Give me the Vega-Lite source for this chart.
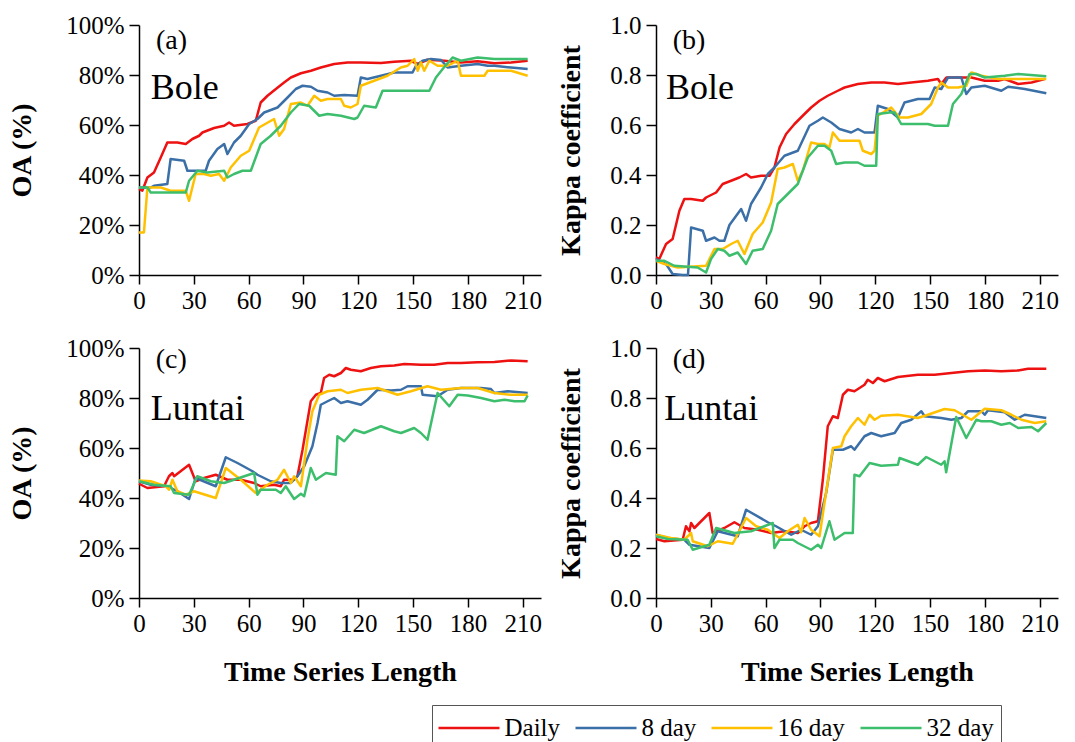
{
"$schema": "https://vega.github.io/schema/vega-lite/v6.json",
"background": "white",
"padding": {"left": 8, "top": 13, "right": 5, "bottom": 5},
"columns": 2,
"align": "each",
"spacing": {"row": 23, "column": 15},
"resolve": {"scale": {"color": "shared"}, "legend": {"color": "shared"}},
"config": {
  "view": {"stroke": null},
  "axis": {"grid": false, "domainColor": "black", "domainWidth": 1.5, "tickColor": "black", "tickWidth": 1.5, "labelColor": "black", "titleColor": "black", "labelFont": "Liberation Serif", "labelFontSize": 25, "titleFont": "Liberation Serif", "titleFontSize": 28, "titleFontWeight": "bold", "labelFlush": false, "labelOverlap": false},
  "text": {"font": "Liberation Serif", "color": "black"}
},
"datasets": {
"d": [
{"p":"a","s":"Daily","x":0,"y":0.344},{"p":"a","s":"Daily","x":1.8,"y":0.337},{"p":"a","s":"Daily","x":4.6,"y":0.39},{"p":"a","s":"Daily","x":8.2,"y":0.41},{"p":"a","s":"Daily","x":11.9,"y":0.47},{"p":"a","s":"Daily","x":15.5,"y":0.53},{"p":"a","s":"Daily","x":21.0,"y":0.53},{"p":"a","s":"Daily","x":25.6,"y":0.524},{"p":"a","s":"Daily","x":29.2,"y":0.544},{"p":"a","s":"Daily","x":32.9,"y":0.557},{"p":"a","s":"Daily","x":34.7,"y":0.57},{"p":"a","s":"Daily","x":41.1,"y":0.588},{"p":"a","s":"Daily","x":46.6,"y":0.597},{"p":"a","s":"Daily","x":49.3,"y":0.61},{"p":"a","s":"Daily","x":52.0,"y":0.597},{"p":"a","s":"Daily","x":59.3,"y":0.604},{"p":"a","s":"Daily","x":63.9,"y":0.617},{"p":"a","s":"Daily","x":66.6,"y":0.69},{"p":"a","s":"Daily","x":70.3,"y":0.717},{"p":"a","s":"Daily","x":74.9,"y":0.744},{"p":"a","s":"Daily","x":79.4,"y":0.77},{"p":"a","s":"Daily","x":83.1,"y":0.79},{"p":"a","s":"Daily","x":88.6,"y":0.807},{"p":"a","s":"Daily","x":94.1,"y":0.817},{"p":"a","s":"Daily","x":99.5,"y":0.83},{"p":"a","s":"Daily","x":106.8,"y":0.844},{"p":"a","s":"Daily","x":114.1,"y":0.85},{"p":"a","s":"Daily","x":121.4,"y":0.85},{"p":"a","s":"Daily","x":132.4,"y":0.848},{"p":"a","s":"Daily","x":139.7,"y":0.853},{"p":"a","s":"Daily","x":148.8,"y":0.857},{"p":"a","s":"Daily","x":152.5,"y":0.844},{"p":"a","s":"Daily","x":157.9,"y":0.861},{"p":"a","s":"Daily","x":167.1,"y":0.857},{"p":"a","s":"Daily","x":176.2,"y":0.85},{"p":"a","s":"Daily","x":185.3,"y":0.855},{"p":"a","s":"Daily","x":194.5,"y":0.847},{"p":"a","s":"Daily","x":203.6,"y":0.85},{"p":"a","s":"Daily","x":212.7,"y":0.857},
{"p":"a","s":"8 day","x":0,"y":0.35},{"p":"a","s":"8 day","x":6.4,"y":0.35},{"p":"a","s":"8 day","x":8.2,"y":0.357},{"p":"a","s":"8 day","x":15.5,"y":0.364},{"p":"a","s":"8 day","x":17.3,"y":0.464},{"p":"a","s":"8 day","x":24.7,"y":0.457},{"p":"a","s":"8 day","x":26.5,"y":0.417},{"p":"a","s":"8 day","x":36.5,"y":0.417},{"p":"a","s":"8 day","x":38.3,"y":0.457},{"p":"a","s":"8 day","x":42.9,"y":0.504},{"p":"a","s":"8 day","x":46.6,"y":0.524},{"p":"a","s":"8 day","x":48.4,"y":0.484},{"p":"a","s":"8 day","x":52.0,"y":0.53},{"p":"a","s":"8 day","x":55.7,"y":0.557},{"p":"a","s":"8 day","x":60.3,"y":0.604},{"p":"a","s":"8 day","x":64.8,"y":0.624},{"p":"a","s":"8 day","x":68.5,"y":0.65},{"p":"a","s":"8 day","x":75.8,"y":0.67},{"p":"a","s":"8 day","x":81.3,"y":0.71},{"p":"a","s":"8 day","x":85.8,"y":0.744},{"p":"a","s":"8 day","x":89.5,"y":0.757},{"p":"a","s":"8 day","x":94.1,"y":0.753},{"p":"a","s":"8 day","x":97.7,"y":0.737},{"p":"a","s":"8 day","x":103.2,"y":0.73},{"p":"a","s":"8 day","x":106.8,"y":0.717},{"p":"a","s":"8 day","x":112.3,"y":0.72},{"p":"a","s":"8 day","x":119.6,"y":0.717},{"p":"a","s":"8 day","x":121.4,"y":0.79},{"p":"a","s":"8 day","x":125.0,"y":0.784},{"p":"a","s":"8 day","x":132.4,"y":0.797},{"p":"a","s":"8 day","x":139.7,"y":0.81},{"p":"a","s":"8 day","x":149.7,"y":0.81},{"p":"a","s":"8 day","x":151.6,"y":0.837},{"p":"a","s":"8 day","x":155.2,"y":0.857},{"p":"a","s":"8 day","x":159.8,"y":0.864},{"p":"a","s":"8 day","x":165.3,"y":0.86},{"p":"a","s":"8 day","x":168.9,"y":0.83},{"p":"a","s":"8 day","x":176.2,"y":0.837},{"p":"a","s":"8 day","x":185.3,"y":0.844},{"p":"a","s":"8 day","x":190.8,"y":0.837},{"p":"a","s":"8 day","x":194.5,"y":0.837},{"p":"a","s":"8 day","x":203.6,"y":0.83},{"p":"a","s":"8 day","x":212.7,"y":0.824},
{"p":"a","s":"16 day","x":0,"y":0.17},{"p":"a","s":"16 day","x":2.7,"y":0.17},{"p":"a","s":"16 day","x":4.6,"y":0.35},{"p":"a","s":"16 day","x":11.9,"y":0.35},{"p":"a","s":"16 day","x":17.3,"y":0.337},{"p":"a","s":"16 day","x":25.6,"y":0.337},{"p":"a","s":"16 day","x":27.4,"y":0.297},{"p":"a","s":"16 day","x":31.0,"y":0.404},{"p":"a","s":"16 day","x":35.6,"y":0.404},{"p":"a","s":"16 day","x":39.3,"y":0.397},{"p":"a","s":"16 day","x":43.8,"y":0.404},{"p":"a","s":"16 day","x":46.6,"y":0.377},{"p":"a","s":"16 day","x":50.2,"y":0.43},{"p":"a","s":"16 day","x":55.7,"y":0.477},{"p":"a","s":"16 day","x":60.3,"y":0.497},{"p":"a","s":"16 day","x":65.7,"y":0.59},{"p":"a","s":"16 day","x":73.9,"y":0.624},{"p":"a","s":"16 day","x":76.7,"y":0.557},{"p":"a","s":"16 day","x":79.4,"y":0.584},{"p":"a","s":"16 day","x":83.1,"y":0.684},{"p":"a","s":"16 day","x":88.6,"y":0.69},{"p":"a","s":"16 day","x":92.2,"y":0.677},{"p":"a","s":"16 day","x":95.9,"y":0.717},{"p":"a","s":"16 day","x":99.5,"y":0.697},{"p":"a","s":"16 day","x":103.2,"y":0.704},{"p":"a","s":"16 day","x":110.5,"y":0.704},{"p":"a","s":"16 day","x":112.3,"y":0.677},{"p":"a","s":"16 day","x":115.9,"y":0.67},{"p":"a","s":"16 day","x":119.6,"y":0.684},{"p":"a","s":"16 day","x":121.4,"y":0.757},{"p":"a","s":"16 day","x":128.7,"y":0.777},{"p":"a","s":"16 day","x":136.0,"y":0.797},{"p":"a","s":"16 day","x":143.3,"y":0.83},{"p":"a","s":"16 day","x":147.0,"y":0.837},{"p":"a","s":"16 day","x":150.6,"y":0.864},{"p":"a","s":"16 day","x":152.5,"y":0.817},{"p":"a","s":"16 day","x":154.3,"y":0.85},{"p":"a","s":"16 day","x":156.1,"y":0.817},{"p":"a","s":"16 day","x":158.9,"y":0.857},{"p":"a","s":"16 day","x":163.4,"y":0.837},{"p":"a","s":"16 day","x":168.9,"y":0.837},{"p":"a","s":"16 day","x":174.4,"y":0.857},{"p":"a","s":"16 day","x":176.2,"y":0.797},{"p":"a","s":"16 day","x":189.0,"y":0.797},{"p":"a","s":"16 day","x":190.8,"y":0.817},{"p":"a","s":"16 day","x":203.6,"y":0.817},{"p":"a","s":"16 day","x":212.7,"y":0.797},
{"p":"a","s":"32 day","x":0,"y":0.35},{"p":"a","s":"32 day","x":4.6,"y":0.35},{"p":"a","s":"32 day","x":6.4,"y":0.33},{"p":"a","s":"32 day","x":25.6,"y":0.33},{"p":"a","s":"32 day","x":27.4,"y":0.377},{"p":"a","s":"32 day","x":32.0,"y":0.417},{"p":"a","s":"32 day","x":37.4,"y":0.41},{"p":"a","s":"32 day","x":46.6,"y":0.417},{"p":"a","s":"32 day","x":48.4,"y":0.39},{"p":"a","s":"32 day","x":52.0,"y":0.404},{"p":"a","s":"32 day","x":56.6,"y":0.417},{"p":"a","s":"32 day","x":61.2,"y":0.417},{"p":"a","s":"32 day","x":66.6,"y":0.524},{"p":"a","s":"32 day","x":72.1,"y":0.557},{"p":"a","s":"32 day","x":77.6,"y":0.597},{"p":"a","s":"32 day","x":83.1,"y":0.65},{"p":"a","s":"32 day","x":87.6,"y":0.684},{"p":"a","s":"32 day","x":93.1,"y":0.677},{"p":"a","s":"32 day","x":98.6,"y":0.637},{"p":"a","s":"32 day","x":103.2,"y":0.644},{"p":"a","s":"32 day","x":110.5,"y":0.637},{"p":"a","s":"32 day","x":117.8,"y":0.624},{"p":"a","s":"32 day","x":119.6,"y":0.63},{"p":"a","s":"32 day","x":123.2,"y":0.677},{"p":"a","s":"32 day","x":129.6,"y":0.67},{"p":"a","s":"32 day","x":133.3,"y":0.737},{"p":"a","s":"32 day","x":139.7,"y":0.737},{"p":"a","s":"32 day","x":158.9,"y":0.737},{"p":"a","s":"32 day","x":162.5,"y":0.79},{"p":"a","s":"32 day","x":166.2,"y":0.824},{"p":"a","s":"32 day","x":171.6,"y":0.87},{"p":"a","s":"32 day","x":176.2,"y":0.857},{"p":"a","s":"32 day","x":185.3,"y":0.87},{"p":"a","s":"32 day","x":194.5,"y":0.864},{"p":"a","s":"32 day","x":212.7,"y":0.864},
{"p":"b","s":"Daily","x":0,"y":0.07},{"p":"b","s":"Daily","x":1.8,"y":0.064},{"p":"b","s":"Daily","x":5.5,"y":0.124},{"p":"b","s":"Daily","x":9.1,"y":0.144},{"p":"b","s":"Daily","x":12.8,"y":0.257},{"p":"b","s":"Daily","x":15.5,"y":0.304},{"p":"b","s":"Daily","x":19.2,"y":0.304},{"p":"b","s":"Daily","x":25.6,"y":0.297},{"p":"b","s":"Daily","x":27.4,"y":0.31},{"p":"b","s":"Daily","x":32.9,"y":0.33},{"p":"b","s":"Daily","x":36.5,"y":0.364},{"p":"b","s":"Daily","x":41.1,"y":0.377},{"p":"b","s":"Daily","x":45.6,"y":0.39},{"p":"b","s":"Daily","x":49.3,"y":0.404},{"p":"b","s":"Daily","x":52.0,"y":0.39},{"p":"b","s":"Daily","x":57.5,"y":0.397},{"p":"b","s":"Daily","x":62.1,"y":0.397},{"p":"b","s":"Daily","x":64.8,"y":0.43},{"p":"b","s":"Daily","x":67.6,"y":0.51},{"p":"b","s":"Daily","x":71.2,"y":0.564},{"p":"b","s":"Daily","x":75.8,"y":0.604},{"p":"b","s":"Daily","x":80.3,"y":0.637},{"p":"b","s":"Daily","x":84.9,"y":0.67},{"p":"b","s":"Daily","x":89.5,"y":0.697},{"p":"b","s":"Daily","x":94.0,"y":0.717},{"p":"b","s":"Daily","x":99.5,"y":0.737},{"p":"b","s":"Daily","x":103.2,"y":0.75},{"p":"b","s":"Daily","x":110.5,"y":0.764},{"p":"b","s":"Daily","x":117.8,"y":0.77},{"p":"b","s":"Daily","x":125.1,"y":0.77},{"p":"b","s":"Daily","x":132.4,"y":0.764},{"p":"b","s":"Daily","x":139.7,"y":0.77},{"p":"b","s":"Daily","x":148.8,"y":0.777},{"p":"b","s":"Daily","x":154.3,"y":0.784},{"p":"b","s":"Daily","x":156.1,"y":0.764},{"p":"b","s":"Daily","x":158.9,"y":0.79},{"p":"b","s":"Daily","x":165.3,"y":0.79},{"p":"b","s":"Daily","x":172.6,"y":0.79},{"p":"b","s":"Daily","x":179.9,"y":0.777},{"p":"b","s":"Daily","x":187.2,"y":0.777},{"p":"b","s":"Daily","x":190.8,"y":0.784},{"p":"b","s":"Daily","x":198.2,"y":0.764},{"p":"b","s":"Daily","x":205.5,"y":0.77},{"p":"b","s":"Daily","x":212.7,"y":0.784},
{"p":"b","s":"8 day","x":0,"y":0.064},{"p":"b","s":"8 day","x":5.5,"y":0.044},{"p":"b","s":"8 day","x":9.1,"y":0.004},{"p":"b","s":"8 day","x":14.6,"y":0},{"p":"b","s":"8 day","x":17.5,"y":0.0},{"p":"b","s":"8 day","x":19.2,"y":0.19},{"p":"b","s":"8 day","x":25.6,"y":0.177},{"p":"b","s":"8 day","x":27.4,"y":0.137},{"p":"b","s":"8 day","x":32.0,"y":0.15},{"p":"b","s":"8 day","x":34.7,"y":0.137},{"p":"b","s":"8 day","x":37.4,"y":0.137},{"p":"b","s":"8 day","x":40.2,"y":0.2},{"p":"b","s":"8 day","x":46.6,"y":0.264},{"p":"b","s":"8 day","x":49.3,"y":0.217},{"p":"b","s":"8 day","x":52.0,"y":0.284},{"p":"b","s":"8 day","x":57.5,"y":0.35},{"p":"b","s":"8 day","x":61.2,"y":0.404},{"p":"b","s":"8 day","x":64.8,"y":0.43},{"p":"b","s":"8 day","x":70.3,"y":0.477},{"p":"b","s":"8 day","x":77.6,"y":0.497},{"p":"b","s":"8 day","x":84.0,"y":0.597},{"p":"b","s":"8 day","x":88.6,"y":0.617},{"p":"b","s":"8 day","x":91.3,"y":0.63},{"p":"b","s":"8 day","x":95.9,"y":0.61},{"p":"b","s":"8 day","x":100.4,"y":0.584},{"p":"b","s":"8 day","x":106.8,"y":0.57},{"p":"b","s":"8 day","x":110.5,"y":0.584},{"p":"b","s":"8 day","x":114.1,"y":0.57},{"p":"b","s":"8 day","x":119.6,"y":0.57},{"p":"b","s":"8 day","x":121.4,"y":0.677},{"p":"b","s":"8 day","x":126.9,"y":0.664},{"p":"b","s":"8 day","x":132.4,"y":0.63},{"p":"b","s":"8 day","x":136.0,"y":0.69},{"p":"b","s":"8 day","x":143.3,"y":0.704},{"p":"b","s":"8 day","x":149.7,"y":0.704},{"p":"b","s":"8 day","x":152.5,"y":0.75},{"p":"b","s":"8 day","x":156.1,"y":0.744},{"p":"b","s":"8 day","x":159.8,"y":0.79},{"p":"b","s":"8 day","x":167.1,"y":0.79},{"p":"b","s":"8 day","x":169.8,"y":0.724},{"p":"b","s":"8 day","x":172.6,"y":0.75},{"p":"b","s":"8 day","x":179.9,"y":0.757},{"p":"b","s":"8 day","x":189.0,"y":0.737},{"p":"b","s":"8 day","x":192.7,"y":0.753},{"p":"b","s":"8 day","x":201.8,"y":0.744},{"p":"b","s":"8 day","x":213.6,"y":0.727},
{"p":"b","s":"16 day","x":0,"y":0.057},{"p":"b","s":"16 day","x":4.6,"y":0.044},{"p":"b","s":"16 day","x":11.9,"y":0.03},{"p":"b","s":"16 day","x":27.4,"y":0.037},{"p":"b","s":"16 day","x":32.0,"y":0.104},{"p":"b","s":"16 day","x":36.5,"y":0.104},{"p":"b","s":"16 day","x":41.1,"y":0.124},{"p":"b","s":"16 day","x":44.7,"y":0.137},{"p":"b","s":"16 day","x":48.4,"y":0.084},{"p":"b","s":"16 day","x":52.9,"y":0.164},{"p":"b","s":"16 day","x":58.4,"y":0.21},{"p":"b","s":"16 day","x":63.0,"y":0.29},{"p":"b","s":"16 day","x":66.6,"y":0.424},{"p":"b","s":"16 day","x":70.3,"y":0.43},{"p":"b","s":"16 day","x":74.9,"y":0.444},{"p":"b","s":"16 day","x":77.6,"y":0.377},{"p":"b","s":"16 day","x":80.3,"y":0.417},{"p":"b","s":"16 day","x":84.9,"y":0.53},{"p":"b","s":"16 day","x":88.6,"y":0.524},{"p":"b","s":"16 day","x":92.2,"y":0.524},{"p":"b","s":"16 day","x":94.9,"y":0.51},{"p":"b","s":"16 day","x":96.8,"y":0.57},{"p":"b","s":"16 day","x":100.4,"y":0.537},{"p":"b","s":"16 day","x":105.0,"y":0.537},{"p":"b","s":"16 day","x":111.4,"y":0.537},{"p":"b","s":"16 day","x":113.2,"y":0.497},{"p":"b","s":"16 day","x":117.8,"y":0.484},{"p":"b","s":"16 day","x":119.6,"y":0.497},{"p":"b","s":"16 day","x":121.4,"y":0.637},{"p":"b","s":"16 day","x":128.7,"y":0.67},{"p":"b","s":"16 day","x":133.3,"y":0.63},{"p":"b","s":"16 day","x":137.9,"y":0.63},{"p":"b","s":"16 day","x":145.2,"y":0.644},{"p":"b","s":"16 day","x":150.6,"y":0.684},{"p":"b","s":"16 day","x":154.3,"y":0.75},{"p":"b","s":"16 day","x":156.1,"y":0.77},{"p":"b","s":"16 day","x":159.8,"y":0.75},{"p":"b","s":"16 day","x":165.3,"y":0.75},{"p":"b","s":"16 day","x":169.8,"y":0.757},{"p":"b","s":"16 day","x":172.6,"y":0.81},{"p":"b","s":"16 day","x":178.1,"y":0.797},{"p":"b","s":"16 day","x":187.2,"y":0.784},{"p":"b","s":"16 day","x":198.2,"y":0.784},{"p":"b","s":"16 day","x":213.6,"y":0.784},
{"p":"b","s":"32 day","x":0,"y":0.057},{"p":"b","s":"32 day","x":4.6,"y":0.057},{"p":"b","s":"32 day","x":10.0,"y":0.037},{"p":"b","s":"32 day","x":22.8,"y":0.03},{"p":"b","s":"32 day","x":27.4,"y":0.01},{"p":"b","s":"32 day","x":30.1,"y":0.064},{"p":"b","s":"32 day","x":33.8,"y":0.104},{"p":"b","s":"32 day","x":37.4,"y":0.097},{"p":"b","s":"32 day","x":40.2,"y":0.077},{"p":"b","s":"32 day","x":44.7,"y":0.09},{"p":"b","s":"32 day","x":49.3,"y":0.044},{"p":"b","s":"32 day","x":52.9,"y":0.097},{"p":"b","s":"32 day","x":58.4,"y":0.104},{"p":"b","s":"32 day","x":63.0,"y":0.177},{"p":"b","s":"32 day","x":66.6,"y":0.284},{"p":"b","s":"32 day","x":72.1,"y":0.324},{"p":"b","s":"32 day","x":77.6,"y":0.364},{"p":"b","s":"32 day","x":83.1,"y":0.47},{"p":"b","s":"32 day","x":88.6,"y":0.517},{"p":"b","s":"32 day","x":92.2,"y":0.517},{"p":"b","s":"32 day","x":95.9,"y":0.497},{"p":"b","s":"32 day","x":98.6,"y":0.444},{"p":"b","s":"32 day","x":103.2,"y":0.45},{"p":"b","s":"32 day","x":110.5,"y":0.45},{"p":"b","s":"32 day","x":114.1,"y":0.437},{"p":"b","s":"32 day","x":120.5,"y":0.437},{"p":"b","s":"32 day","x":121.4,"y":0.644},{"p":"b","s":"32 day","x":127.8,"y":0.65},{"p":"b","s":"32 day","x":130.6,"y":0.65},{"p":"b","s":"32 day","x":134.2,"y":0.604},{"p":"b","s":"32 day","x":141.5,"y":0.604},{"p":"b","s":"32 day","x":148.8,"y":0.604},{"p":"b","s":"32 day","x":152.5,"y":0.597},{"p":"b","s":"32 day","x":159.8,"y":0.597},{"p":"b","s":"32 day","x":162.5,"y":0.684},{"p":"b","s":"32 day","x":167.1,"y":0.724},{"p":"b","s":"32 day","x":171.6,"y":0.804},{"p":"b","s":"32 day","x":175.3,"y":0.804},{"p":"b","s":"32 day","x":179.9,"y":0.79},{"p":"b","s":"32 day","x":190.8,"y":0.797},{"p":"b","s":"32 day","x":198.2,"y":0.804},{"p":"b","s":"32 day","x":213.6,"y":0.795},
{"p":"c","s":"Daily","x":0,"y":0.457},{"p":"c","s":"Daily","x":4.6,"y":0.44},{"p":"c","s":"Daily","x":13.7,"y":0.447},{"p":"c","s":"Daily","x":16.4,"y":0.487},{"p":"c","s":"Daily","x":18.3,"y":0.5},{"p":"c","s":"Daily","x":19.2,"y":0.487},{"p":"c","s":"Daily","x":27.4,"y":0.533},{"p":"c","s":"Daily","x":31.0,"y":0.467},{"p":"c","s":"Daily","x":35.6,"y":0.48},{"p":"c","s":"Daily","x":42.0,"y":0.493},{"p":"c","s":"Daily","x":48.4,"y":0.473},{"p":"c","s":"Daily","x":55.7,"y":0.473},{"p":"c","s":"Daily","x":63.0,"y":0.46},{"p":"c","s":"Daily","x":66.6,"y":0.447},{"p":"c","s":"Daily","x":73.9,"y":0.453},{"p":"c","s":"Daily","x":77.6,"y":0.447},{"p":"c","s":"Daily","x":79.4,"y":0.473},{"p":"c","s":"Daily","x":84.9,"y":0.473},{"p":"c","s":"Daily","x":86.7,"y":0.487},{"p":"c","s":"Daily","x":89.5,"y":0.593},{"p":"c","s":"Daily","x":94.0,"y":0.787},{"p":"c","s":"Daily","x":96.8,"y":0.813},{"p":"c","s":"Daily","x":99.5,"y":0.82},{"p":"c","s":"Daily","x":101.3,"y":0.88},{"p":"c","s":"Daily","x":104.1,"y":0.893},{"p":"c","s":"Daily","x":106.8,"y":0.887},{"p":"c","s":"Daily","x":110.5,"y":0.9},{"p":"c","s":"Daily","x":113.2,"y":0.92},{"p":"c","s":"Daily","x":115.9,"y":0.913},{"p":"c","s":"Daily","x":121.4,"y":0.907},{"p":"c","s":"Daily","x":126.9,"y":0.92},{"p":"c","s":"Daily","x":132.4,"y":0.927},{"p":"c","s":"Daily","x":139.7,"y":0.93},{"p":"c","s":"Daily","x":145.2,"y":0.936},{"p":"c","s":"Daily","x":154.3,"y":0.933},{"p":"c","s":"Daily","x":161.6,"y":0.933},{"p":"c","s":"Daily","x":168.9,"y":0.94},{"p":"c","s":"Daily","x":176.2,"y":0.94},{"p":"c","s":"Daily","x":185.3,"y":0.943},{"p":"c","s":"Daily","x":194.5,"y":0.944},{"p":"c","s":"Daily","x":203.6,"y":0.95},{"p":"c","s":"Daily","x":212.7,"y":0.947},
{"p":"c","s":"8 day","x":0,"y":0.467},{"p":"c","s":"8 day","x":6.4,"y":0.453},{"p":"c","s":"8 day","x":15.5,"y":0.447},{"p":"c","s":"8 day","x":21.0,"y":0.427},{"p":"c","s":"8 day","x":27.4,"y":0.396},{"p":"c","s":"8 day","x":31.0,"y":0.48},{"p":"c","s":"8 day","x":42.0,"y":0.447},{"p":"c","s":"8 day","x":47.5,"y":0.563},{"p":"c","s":"8 day","x":53.9,"y":0.54},{"p":"c","s":"8 day","x":62.1,"y":0.507},{"p":"c","s":"8 day","x":64.8,"y":0.493},{"p":"c","s":"8 day","x":72.1,"y":0.467},{"p":"c","s":"8 day","x":77.6,"y":0.46},{"p":"c","s":"8 day","x":83.1,"y":0.46},{"p":"c","s":"8 day","x":86.7,"y":0.487},{"p":"c","s":"8 day","x":90.4,"y":0.527},{"p":"c","s":"8 day","x":94.9,"y":0.607},{"p":"c","s":"8 day","x":97.7,"y":0.7},{"p":"c","s":"8 day","x":99.5,"y":0.773},{"p":"c","s":"8 day","x":103.2,"y":0.787},{"p":"c","s":"8 day","x":106.8,"y":0.8},{"p":"c","s":"8 day","x":110.5,"y":0.78},{"p":"c","s":"8 day","x":114.1,"y":0.787},{"p":"c","s":"8 day","x":117.8,"y":0.78},{"p":"c","s":"8 day","x":121.4,"y":0.773},{"p":"c","s":"8 day","x":125.1,"y":0.793},{"p":"c","s":"8 day","x":130.6,"y":0.833},{"p":"c","s":"8 day","x":137.9,"y":0.83},{"p":"c","s":"8 day","x":143.4,"y":0.833},{"p":"c","s":"8 day","x":147.0,"y":0.847},{"p":"c","s":"8 day","x":154.3,"y":0.847},{"p":"c","s":"8 day","x":155.2,"y":0.813},{"p":"c","s":"8 day","x":163.4,"y":0.807},{"p":"c","s":"8 day","x":168.9,"y":0.833},{"p":"c","s":"8 day","x":176.2,"y":0.84},{"p":"c","s":"8 day","x":187.2,"y":0.84},{"p":"c","s":"8 day","x":192.6,"y":0.836},{"p":"c","s":"8 day","x":194.5,"y":0.82},{"p":"c","s":"8 day","x":201.8,"y":0.827},{"p":"c","s":"8 day","x":212.7,"y":0.82},
{"p":"c","s":"16 day","x":0,"y":0.47},{"p":"c","s":"16 day","x":6.4,"y":0.467},{"p":"c","s":"16 day","x":14.6,"y":0.447},{"p":"c","s":"16 day","x":16.4,"y":0.433},{"p":"c","s":"16 day","x":18.3,"y":0.473},{"p":"c","s":"16 day","x":21.0,"y":0.427},{"p":"c","s":"16 day","x":25.6,"y":0.413},{"p":"c","s":"16 day","x":30.1,"y":0.427},{"p":"c","s":"16 day","x":42.0,"y":0.4},{"p":"c","s":"16 day","x":47.5,"y":0.52},{"p":"c","s":"16 day","x":55.7,"y":0.473},{"p":"c","s":"16 day","x":63.9,"y":0.42},{"p":"c","s":"16 day","x":70.3,"y":0.453},{"p":"c","s":"16 day","x":75.8,"y":0.473},{"p":"c","s":"16 day","x":79.4,"y":0.513},{"p":"c","s":"16 day","x":83.1,"y":0.46},{"p":"c","s":"16 day","x":84.9,"y":0.487},{"p":"c","s":"16 day","x":88.6,"y":0.447},{"p":"c","s":"16 day","x":92.2,"y":0.633},{"p":"c","s":"16 day","x":94.9,"y":0.747},{"p":"c","s":"16 day","x":98.6,"y":0.813},{"p":"c","s":"16 day","x":103.2,"y":0.827},{"p":"c","s":"16 day","x":110.5,"y":0.833},{"p":"c","s":"16 day","x":114.1,"y":0.82},{"p":"c","s":"16 day","x":121.4,"y":0.833},{"p":"c","s":"16 day","x":130.6,"y":0.84},{"p":"c","s":"16 day","x":141.5,"y":0.813},{"p":"c","s":"16 day","x":148.8,"y":0.827},{"p":"c","s":"16 day","x":157.9,"y":0.847},{"p":"c","s":"16 day","x":165.3,"y":0.833},{"p":"c","s":"16 day","x":176.2,"y":0.84},{"p":"c","s":"16 day","x":185.3,"y":0.84},{"p":"c","s":"16 day","x":194.5,"y":0.82},{"p":"c","s":"16 day","x":203.6,"y":0.813},{"p":"c","s":"16 day","x":212.7,"y":0.813},
{"p":"c","s":"32 day","x":0,"y":0.467},{"p":"c","s":"32 day","x":8.2,"y":0.453},{"p":"c","s":"32 day","x":17.3,"y":0.447},{"p":"c","s":"32 day","x":19.2,"y":0.42},{"p":"c","s":"32 day","x":27.4,"y":0.413},{"p":"c","s":"32 day","x":31.9,"y":0.487},{"p":"c","s":"32 day","x":39.3,"y":0.467},{"p":"c","s":"32 day","x":46.6,"y":0.46},{"p":"c","s":"32 day","x":63.0,"y":0.5},{"p":"c","s":"32 day","x":64.8,"y":0.413},{"p":"c","s":"32 day","x":66.6,"y":0.433},{"p":"c","s":"32 day","x":74.9,"y":0.433},{"p":"c","s":"32 day","x":77.6,"y":0.42},{"p":"c","s":"32 day","x":80.3,"y":0.447},{"p":"c","s":"32 day","x":84.9,"y":0.396},{"p":"c","s":"32 day","x":88.6,"y":0.417},{"p":"c","s":"32 day","x":90.4,"y":0.407},{"p":"c","s":"32 day","x":94.0,"y":0.52},{"p":"c","s":"32 day","x":96.8,"y":0.473},{"p":"c","s":"32 day","x":102.3,"y":0.5},{"p":"c","s":"32 day","x":107.7,"y":0.493},{"p":"c","s":"32 day","x":108.6,"y":0.647},{"p":"c","s":"32 day","x":112.3,"y":0.627},{"p":"c","s":"32 day","x":117.8,"y":0.673},{"p":"c","s":"32 day","x":123.2,"y":0.66},{"p":"c","s":"32 day","x":132.4,"y":0.687},{"p":"c","s":"32 day","x":139.7,"y":0.667},{"p":"c","s":"32 day","x":143.4,"y":0.66},{"p":"c","s":"32 day","x":150.6,"y":0.68},{"p":"c","s":"32 day","x":154.3,"y":0.66},{"p":"c","s":"32 day","x":157.9,"y":0.633},{"p":"c","s":"32 day","x":163.4,"y":0.82},{"p":"c","s":"32 day","x":169.8,"y":0.767},{"p":"c","s":"32 day","x":174.4,"y":0.813},{"p":"c","s":"32 day","x":179.9,"y":0.81},{"p":"c","s":"32 day","x":187.2,"y":0.8},{"p":"c","s":"32 day","x":194.5,"y":0.787},{"p":"c","s":"32 day","x":200.0,"y":0.793},{"p":"c","s":"32 day","x":205.5,"y":0.787},{"p":"c","s":"32 day","x":211.0,"y":0.787},{"p":"c","s":"32 day","x":212.7,"y":0.81},
{"p":"d","s":"Daily","x":0,"y":0.236},{"p":"d","s":"Daily","x":4.6,"y":0.227},{"p":"d","s":"Daily","x":14.6,"y":0.233},{"p":"d","s":"Daily","x":16.4,"y":0.287},{"p":"d","s":"Daily","x":18.3,"y":0.267},{"p":"d","s":"Daily","x":19.2,"y":0.3},{"p":"d","s":"Daily","x":21.0,"y":0.28},{"p":"d","s":"Daily","x":29.2,"y":0.34},{"p":"d","s":"Daily","x":31.0,"y":0.26},{"p":"d","s":"Daily","x":37.4,"y":0.28},{"p":"d","s":"Daily","x":42.9,"y":0.303},{"p":"d","s":"Daily","x":48.4,"y":0.28},{"p":"d","s":"Daily","x":55.7,"y":0.273},{"p":"d","s":"Daily","x":63.0,"y":0.26},{"p":"d","s":"Daily","x":70.3,"y":0.267},{"p":"d","s":"Daily","x":77.6,"y":0.26},{"p":"d","s":"Daily","x":81.3,"y":0.287},{"p":"d","s":"Daily","x":84.9,"y":0.3},{"p":"d","s":"Daily","x":88.6,"y":0.307},{"p":"d","s":"Daily","x":91.3,"y":0.473},{"p":"d","s":"Daily","x":94.0,"y":0.687},{"p":"d","s":"Daily","x":96.8,"y":0.727},{"p":"d","s":"Daily","x":99.5,"y":0.72},{"p":"d","s":"Daily","x":102.3,"y":0.813},{"p":"d","s":"Daily","x":105.0,"y":0.833},{"p":"d","s":"Daily","x":108.6,"y":0.827},{"p":"d","s":"Daily","x":111.4,"y":0.84},{"p":"d","s":"Daily","x":114.1,"y":0.853},{"p":"d","s":"Daily","x":115.9,"y":0.873},{"p":"d","s":"Daily","x":118.7,"y":0.86},{"p":"d","s":"Daily","x":121.4,"y":0.88},{"p":"d","s":"Daily","x":125.1,"y":0.867},{"p":"d","s":"Daily","x":132.4,"y":0.884},{"p":"d","s":"Daily","x":143.3,"y":0.893},{"p":"d","s":"Daily","x":152.5,"y":0.893},{"p":"d","s":"Daily","x":161.6,"y":0.9},{"p":"d","s":"Daily","x":170.8,"y":0.907},{"p":"d","s":"Daily","x":179.9,"y":0.91},{"p":"d","s":"Daily","x":189.0,"y":0.907},{"p":"d","s":"Daily","x":198.2,"y":0.91},{"p":"d","s":"Daily","x":203.6,"y":0.917},{"p":"d","s":"Daily","x":213.6,"y":0.917},
{"p":"d","s":"8 day","x":0,"y":0.253},{"p":"d","s":"8 day","x":6.4,"y":0.24},{"p":"d","s":"8 day","x":15.5,"y":0.233},{"p":"d","s":"8 day","x":18.3,"y":0.213},{"p":"d","s":"8 day","x":29.2,"y":0.2},{"p":"d","s":"8 day","x":33.8,"y":0.267},{"p":"d","s":"8 day","x":44.7,"y":0.247},{"p":"d","s":"8 day","x":49.3,"y":0.353},{"p":"d","s":"8 day","x":61.2,"y":0.303},{"p":"d","s":"8 day","x":65.7,"y":0.287},{"p":"d","s":"8 day","x":74.0,"y":0.253},{"p":"d","s":"8 day","x":79.4,"y":0.273},{"p":"d","s":"8 day","x":84.9,"y":0.253},{"p":"d","s":"8 day","x":88.6,"y":0.287},{"p":"d","s":"8 day","x":93.1,"y":0.42},{"p":"d","s":"8 day","x":96.8,"y":0.593},{"p":"d","s":"8 day","x":102.3,"y":0.593},{"p":"d","s":"8 day","x":106.8,"y":0.607},{"p":"d","s":"8 day","x":108.6,"y":0.593},{"p":"d","s":"8 day","x":114.1,"y":0.647},{"p":"d","s":"8 day","x":117.8,"y":0.66},{"p":"d","s":"8 day","x":123.2,"y":0.647},{"p":"d","s":"8 day","x":130.6,"y":0.66},{"p":"d","s":"8 day","x":134.2,"y":0.7},{"p":"d","s":"8 day","x":139.7,"y":0.713},{"p":"d","s":"8 day","x":145.2,"y":0.747},{"p":"d","s":"8 day","x":147.0,"y":0.727},{"p":"d","s":"8 day","x":156.1,"y":0.72},{"p":"d","s":"8 day","x":161.6,"y":0.713},{"p":"d","s":"8 day","x":167.1,"y":0.72},{"p":"d","s":"8 day","x":170.8,"y":0.747},{"p":"d","s":"8 day","x":178.1,"y":0.747},{"p":"d","s":"8 day","x":179.9,"y":0.733},{"p":"d","s":"8 day","x":181.7,"y":0.751},{"p":"d","s":"8 day","x":190.8,"y":0.743},{"p":"d","s":"8 day","x":196.3,"y":0.713},{"p":"d","s":"8 day","x":201.8,"y":0.733},{"p":"d","s":"8 day","x":213.6,"y":0.72},
{"p":"d","s":"16 day","x":0,"y":0.253},{"p":"d","s":"16 day","x":8.2,"y":0.24},{"p":"d","s":"16 day","x":15.5,"y":0.233},{"p":"d","s":"16 day","x":19.2,"y":0.26},{"p":"d","s":"16 day","x":20.1,"y":0.227},{"p":"d","s":"16 day","x":28.3,"y":0.207},{"p":"d","s":"16 day","x":33.8,"y":0.227},{"p":"d","s":"16 day","x":42.0,"y":0.217},{"p":"d","s":"16 day","x":49.3,"y":0.32},{"p":"d","s":"16 day","x":54.8,"y":0.287},{"p":"d","s":"16 day","x":61.2,"y":0.273},{"p":"d","s":"16 day","x":67.6,"y":0.24},{"p":"d","s":"16 day","x":72.1,"y":0.267},{"p":"d","s":"16 day","x":77.6,"y":0.293},{"p":"d","s":"16 day","x":79.4,"y":0.263},{"p":"d","s":"16 day","x":81.3,"y":0.32},{"p":"d","s":"16 day","x":84.9,"y":0.273},{"p":"d","s":"16 day","x":89.5,"y":0.247},{"p":"d","s":"16 day","x":92.2,"y":0.38},{"p":"d","s":"16 day","x":96.8,"y":0.6},{"p":"d","s":"16 day","x":101.4,"y":0.607},{"p":"d","s":"16 day","x":103.2,"y":0.647},{"p":"d","s":"16 day","x":106.8,"y":0.687},{"p":"d","s":"16 day","x":110.5,"y":0.72},{"p":"d","s":"16 day","x":114.1,"y":0.693},{"p":"d","s":"16 day","x":116.9,"y":0.733},{"p":"d","s":"16 day","x":119.6,"y":0.713},{"p":"d","s":"16 day","x":123.2,"y":0.729},{"p":"d","s":"16 day","x":132.4,"y":0.733},{"p":"d","s":"16 day","x":143.3,"y":0.72},{"p":"d","s":"16 day","x":148.8,"y":0.733},{"p":"d","s":"16 day","x":157.9,"y":0.756},{"p":"d","s":"16 day","x":163.4,"y":0.751},{"p":"d","s":"16 day","x":172.6,"y":0.713},{"p":"d","s":"16 day","x":179.9,"y":0.757},{"p":"d","s":"16 day","x":189.0,"y":0.751},{"p":"d","s":"16 day","x":194.5,"y":0.733},{"p":"d","s":"16 day","x":200.0,"y":0.713},{"p":"d","s":"16 day","x":207.3,"y":0.7},{"p":"d","s":"16 day","x":213.6,"y":0.707},
{"p":"d","s":"32 day","x":0,"y":0.247},{"p":"d","s":"32 day","x":6.4,"y":0.236},{"p":"d","s":"32 day","x":17.3,"y":0.233},{"p":"d","s":"32 day","x":20.1,"y":0.193},{"p":"d","s":"32 day","x":29.2,"y":0.213},{"p":"d","s":"32 day","x":32.9,"y":0.28},{"p":"d","s":"32 day","x":42.9,"y":0.26},{"p":"d","s":"32 day","x":52.0,"y":0.267},{"p":"d","s":"32 day","x":63.9,"y":0.3},{"p":"d","s":"32 day","x":64.8,"y":0.2},{"p":"d","s":"32 day","x":67.6,"y":0.233},{"p":"d","s":"32 day","x":74.9,"y":0.233},{"p":"d","s":"32 day","x":77.6,"y":0.22},{"p":"d","s":"32 day","x":84.9,"y":0.193},{"p":"d","s":"32 day","x":88.6,"y":0.213},{"p":"d","s":"32 day","x":90.4,"y":0.2},{"p":"d","s":"32 day","x":94.9,"y":0.307},{"p":"d","s":"32 day","x":97.7,"y":0.233},{"p":"d","s":"32 day","x":103.2,"y":0.26},{"p":"d","s":"32 day","x":107.7,"y":0.26},{"p":"d","s":"32 day","x":108.6,"y":0.493},{"p":"d","s":"32 day","x":111.4,"y":0.487},{"p":"d","s":"32 day","x":116.9,"y":0.54},{"p":"d","s":"32 day","x":123.2,"y":0.529},{"p":"d","s":"32 day","x":132.4,"y":0.533},{"p":"d","s":"32 day","x":133.3,"y":0.56},{"p":"d","s":"32 day","x":143.3,"y":0.533},{"p":"d","s":"32 day","x":147.9,"y":0.564},{"p":"d","s":"32 day","x":156.1,"y":0.533},{"p":"d","s":"32 day","x":157.9,"y":0.547},{"p":"d","s":"32 day","x":158.8,"y":0.503},{"p":"d","s":"32 day","x":164.3,"y":0.724},{"p":"d","s":"32 day","x":169.8,"y":0.64},{"p":"d","s":"32 day","x":175.3,"y":0.713},{"p":"d","s":"32 day","x":178.1,"y":0.707},{"p":"d","s":"32 day","x":183.5,"y":0.707},{"p":"d","s":"32 day","x":189.0,"y":0.693},{"p":"d","s":"32 day","x":193.6,"y":0.7},{"p":"d","s":"32 day","x":198.2,"y":0.68},{"p":"d","s":"32 day","x":205.5,"y":0.684},{"p":"d","s":"32 day","x":209.1,"y":0.667},{"p":"d","s":"32 day","x":213.6,"y":0.7}
]
},
"concat": [
{
 "width": 402, "height": 250,
 "layer": [
  {"data": {"name": "d"}, "transform": [{"filter": "datum.p === 'a'"}],
   "mark": {"type": "line", "strokeWidth": 2.5, "strokeJoin": "round"},
   "encoding": {
    "x": {"field": "x", "type": "quantitative", "scale": {"domain": [0, 220], "nice": false}, "axis": {"title": null, "values": [0,15,30,45,60,75,90,105,120,135,150,165,180,195,210], "labelExpr": "datum.value % 30 === 0 ? datum.label : ''", "tickSize": {"condition": {"test": "datum.value % 30 === 0", "value": 9}, "value": 5}, "labelPadding": 4}},
    "y": {"field": "y", "type": "quantitative", "scale": {"domain": [0, 1], "nice": false}, "axis": {"title": "OA (%)", "format": ".0%", "values": [0,0.1,0.2,0.3,0.4,0.5,0.6,0.7,0.8,0.9,1], "labelExpr": "round(datum.value*10) % 2 === 0 ? datum.label : ''", "tickSize": {"condition": {"test": "round(datum.value*10) % 2 === 0", "value": 10}, "value": 5}, "labelPadding": 5, "titlePadding": 29}},
    "color": {"field": "s", "type": "nominal", "scale": {"domain": ["Daily", "8 day", "16 day", "32 day"], "range": ["#EE1111", "#3B6FA7", "#FFC000", "#3DBE6D"]},
      "legend": {"orient": "none", "legendX": 293, "legendY": 680, "direction": "horizontal", "columns": 4, "gridAlign": "none", "title": null, "symbolType": "M-2,0H2", "symbolSize": 930, "symbolStrokeWidth": 2.5, "symbolOffset": 14, "labelFont": "Liberation Serif", "labelFontSize": 25, "labelColor": "black", "labelOffset": 19, "columnPadding": 10, "padding": 6.5, "strokeColor": "#555555", "fillColor": "white"}}
   }},
  {"data": {"values": [{}]}, "mark": {"type": "text", "fontSize": 28, "align": "left", "baseline": "middle"}, "encoding": {"x": {"datum": 9.3, "type": "quantitative"}, "y": {"datum": 0.937, "type": "quantitative"}, "text": {"value": "(a)"}}},
  {"data": {"values": [{}]}, "mark": {"type": "text", "fontSize": 36, "align": "left", "baseline": "alphabetic"}, "encoding": {"x": {"datum": 6.4, "type": "quantitative"}, "y": {"datum": 0.705, "type": "quantitative"}, "text": {"value": "Bole"}}}
 ]
},
{
 "width": 402, "height": 250,
 "layer": [
  {"data": {"name": "d"}, "transform": [{"filter": "datum.p === 'b'"}],
   "mark": {"type": "line", "strokeWidth": 2.5, "strokeJoin": "round"},
   "encoding": {
    "x": {"field": "x", "type": "quantitative", "scale": {"domain": [0, 220], "nice": false}, "axis": {"title": null, "values": [0,15,30,45,60,75,90,105,120,135,150,165,180,195,210], "labelExpr": "datum.value % 30 === 0 ? datum.label : ''", "tickSize": {"condition": {"test": "datum.value % 30 === 0", "value": 9}, "value": 5}, "labelPadding": 4}},
    "y": {"field": "y", "type": "quantitative", "scale": {"domain": [0, 1], "nice": false}, "axis": {"title": "Kappa coefficient", "format": ".1f", "values": [0,0.1,0.2,0.3,0.4,0.5,0.6,0.7,0.8,0.9,1], "labelExpr": "round(datum.value*10) % 2 === 0 ? datum.label : ''", "tickSize": {"condition": {"test": "round(datum.value*10) % 2 === 0", "value": 10}, "value": 5}, "labelPadding": 5, "titlePadding": 24}},
    "color": {"field": "s", "type": "nominal", "scale": {"domain": ["Daily", "8 day", "16 day", "32 day"], "range": ["#EE1111", "#3B6FA7", "#FFC000", "#3DBE6D"]}}
   }},
  {"data": {"values": [{}]}, "mark": {"type": "text", "fontSize": 28, "align": "left", "baseline": "middle"}, "encoding": {"x": {"datum": 9.1, "type": "quantitative"}, "y": {"datum": 0.937, "type": "quantitative"}, "text": {"value": "(b)"}}},
  {"data": {"values": [{}]}, "mark": {"type": "text", "fontSize": 36, "align": "left", "baseline": "alphabetic"}, "encoding": {"x": {"datum": 5.5, "type": "quantitative"}, "y": {"datum": 0.705, "type": "quantitative"}, "text": {"value": "Bole"}}}
 ]
},
{
 "width": 402, "height": 250,
 "layer": [
  {"data": {"name": "d"}, "transform": [{"filter": "datum.p === 'c'"}],
   "mark": {"type": "line", "strokeWidth": 2.5, "strokeJoin": "round"},
   "encoding": {
    "x": {"field": "x", "type": "quantitative", "scale": {"domain": [0, 220], "nice": false}, "axis": {"title": "Time Series Length", "titlePadding": 22, "values": [0,15,30,45,60,75,90,105,120,135,150,165,180,195,210], "labelExpr": "datum.value % 30 === 0 ? datum.label : ''", "tickSize": {"condition": {"test": "datum.value % 30 === 0", "value": 9}, "value": 5}, "labelPadding": 4}},
    "y": {"field": "y", "type": "quantitative", "scale": {"domain": [0, 1], "nice": false}, "axis": {"title": "OA (%)", "format": ".0%", "values": [0,0.1,0.2,0.3,0.4,0.5,0.6,0.7,0.8,0.9,1], "labelExpr": "round(datum.value*10) % 2 === 0 ? datum.label : ''", "tickSize": {"condition": {"test": "round(datum.value*10) % 2 === 0", "value": 10}, "value": 5}, "labelPadding": 5, "titlePadding": 29}},
    "color": {"field": "s", "type": "nominal", "scale": {"domain": ["Daily", "8 day", "16 day", "32 day"], "range": ["#EE1111", "#3B6FA7", "#FFC000", "#3DBE6D"]}}
   }},
  {"data": {"values": [{}]}, "mark": {"type": "text", "fontSize": 28, "align": "left", "baseline": "middle"}, "encoding": {"x": {"datum": 9.1, "type": "quantitative"}, "y": {"datum": 0.953, "type": "quantitative"}, "text": {"value": "(c)"}}},
  {"data": {"values": [{}]}, "mark": {"type": "text", "fontSize": 36, "align": "left", "baseline": "alphabetic"}, "encoding": {"x": {"datum": 6.4, "type": "quantitative"}, "y": {"datum": 0.713, "type": "quantitative"}, "text": {"value": "Luntai"}}}
 ]
},
{
 "width": 402, "height": 250,
 "layer": [
  {"data": {"name": "d"}, "transform": [{"filter": "datum.p === 'd'"}],
   "mark": {"type": "line", "strokeWidth": 2.5, "strokeJoin": "round"},
   "encoding": {
    "x": {"field": "x", "type": "quantitative", "scale": {"domain": [0, 220], "nice": false}, "axis": {"title": "Time Series Length", "titlePadding": 22, "values": [0,15,30,45,60,75,90,105,120,135,150,165,180,195,210], "labelExpr": "datum.value % 30 === 0 ? datum.label : ''", "tickSize": {"condition": {"test": "datum.value % 30 === 0", "value": 9}, "value": 5}, "labelPadding": 4}},
    "y": {"field": "y", "type": "quantitative", "scale": {"domain": [0, 1], "nice": false}, "axis": {"title": "Kappa coefficient", "format": ".1f", "values": [0,0.1,0.2,0.3,0.4,0.5,0.6,0.7,0.8,0.9,1], "labelExpr": "round(datum.value*10) % 2 === 0 ? datum.label : ''", "tickSize": {"condition": {"test": "round(datum.value*10) % 2 === 0", "value": 10}, "value": 5}, "labelPadding": 5, "titlePadding": 24}},
    "color": {"field": "s", "type": "nominal", "scale": {"domain": ["Daily", "8 day", "16 day", "32 day"], "range": ["#EE1111", "#3B6FA7", "#FFC000", "#3DBE6D"]}}
   }},
  {"data": {"values": [{}]}, "mark": {"type": "text", "fontSize": 28, "align": "left", "baseline": "middle"}, "encoding": {"x": {"datum": 9.1, "type": "quantitative"}, "y": {"datum": 0.953, "type": "quantitative"}, "text": {"value": "(d)"}}},
  {"data": {"values": [{}]}, "mark": {"type": "text", "fontSize": 36, "align": "left", "baseline": "alphabetic"}, "encoding": {"x": {"datum": 4.5, "type": "quantitative"}, "y": {"datum": 0.713, "type": "quantitative"}, "text": {"value": "Luntai"}}}
 ]
}
]
}
